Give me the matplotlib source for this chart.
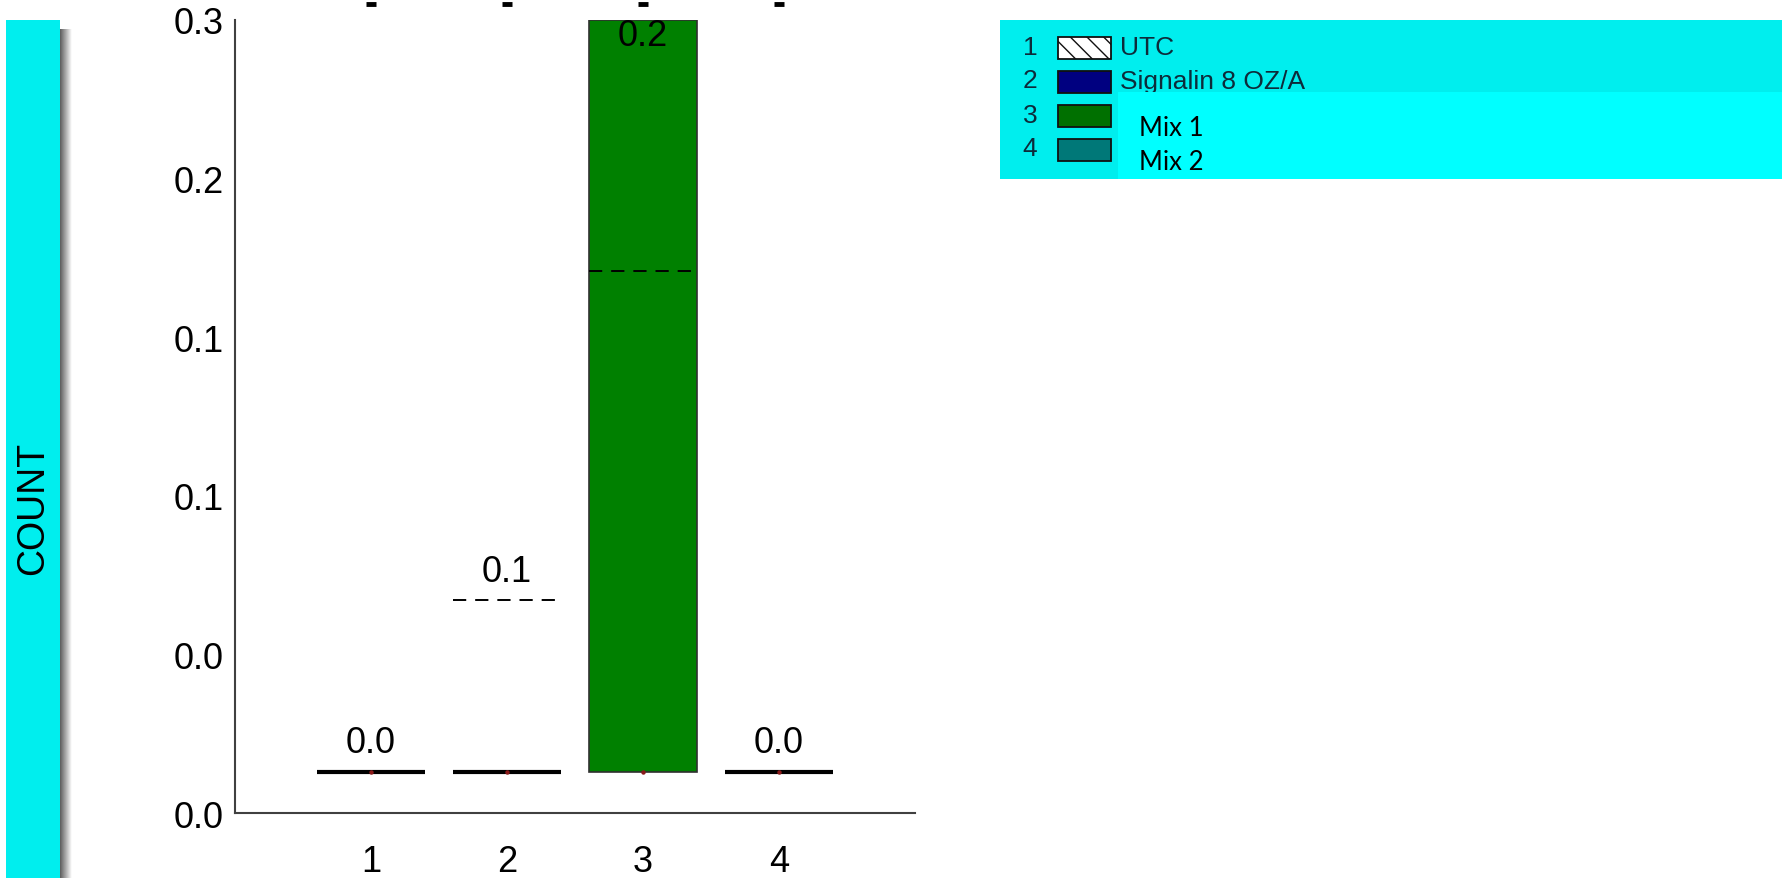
import matplotlib
matplotlib.use("Agg")
import matplotlib.pyplot as plt
from matplotlib.patches import Rectangle
import numpy as np

plt.rcParams['font.family'] = ['Liberation Sans', 'DejaVu Sans']

# values
groups = [1, 2, 3, 4]
box_low = [0.013, 0.013, 0.013, 0.013]
box_high = [0.013, 0.013, 0.25, 0.013]
mean_line = [0.013, 0.067, 0.171, 0.013]
cap_top = [0.255, 0.255, 0.255, 0.255]
value_labels = ["0.0", "0.1", "0.2", "0.0"]
box_colors = ["white", "#000080", "#008000", "#008080"]

ytick_vals = [0.0, 0.05, 0.10, 0.15, 0.20, 0.25]
ytick_labels = ["0.0", "0.0", "0.1", "0.1", "0.2", "0.3"]
xtick_labels = ["1", "2", "3", "4"]

legend_nums = ["1", "2", "3", "4"]
legend_names = ["UTC", "Signalin 8 OZ/A"]
overlay_names = ["Mix 1", "Mix 2"]
legend_colors = ["white", "#000080", "#007000", "#007878"]

W, H = 1783, 879
fig = plt.figure(figsize=(W / 100, H / 100), dpi=100)


def fx(px):
    return px / W


def fy(py):
    return 1 - py / H


ax = fig.add_axes([fx(235), fy(814), 680 / W, 793 / H])

bw = 0.8
for xi, lo, hi, col in zip(groups, box_low, box_high, box_colors):
    if hi > lo:
        ax.bar(xi, hi - lo, bottom=lo, width=bw, color=col,
               edgecolor='#303030', lw=1.2, zorder=2)
    else:
        ax.hlines(lo, xi - bw / 2, xi + bw / 2, colors='black', lw=3, zorder=3)

# mean lines (dashed)
for xi, m, lo in zip(groups, mean_line, box_low):
    if m > lo:
        ax.plot([xi - bw / 2, xi + bw / 2], [m, m], color='black', lw=1.4,
                dashes=(6.8, 4.6), zorder=4)

# small median dots
ax.plot(groups, box_low, 'o', color='#8b1a1a', ms=2.2, zorder=5)

# caps beyond the top
ax.plot(groups, cap_top, ls='none', marker='_', ms=7, mew=3.5,
        color='black', clip_on=False, zorder=5)

# value labels
for xi, lo, hi, m, lab in zip(groups, box_low, box_high, mean_line, value_labels):
    if hi > lo:
        ax.annotate(lab, (xi, hi), xytext=(0, -11), textcoords='offset points',
                    ha='center', va='center', fontsize=26, color='black')
    else:
        ax.annotate(lab, (xi, m), xytext=(0, 21), textcoords='offset points',
                    ha='center', va='center', fontsize=26, color='black')

ax.set_xlim(0, 5)
ax.set_ylim(0, 0.25)
ax.set_xticks(groups)
ax.set_xticklabels(xtick_labels)
ax.set_yticks(ytick_vals)
ax.set_yticklabels(ytick_labels)
ax.tick_params(axis='both', length=0, labelsize=26)
ax.tick_params(axis='y', pad=8)
ax.tick_params(axis='x', pad=22)
for side in ['top', 'right']:
    ax.spines[side].set_visible(False)
for side in ['left', 'bottom']:
    ax.spines[side].set_color('#404040')
    ax.spines[side].set_linewidth(1.5)

# y label panel with shadow
for i in range(12):
    g = 0.38 + 0.6 * i / 11
    fig.patches.append(Rectangle((fx(60 + i), 0), 1.2 / W, fy(30),
                                 transform=fig.transFigure,
                                 color=(g, g, g), lw=0, zorder=1))
fig.patches.append(Rectangle((fx(6), 0), 54 / W, fy(21),
                             transform=fig.transFigure,
                             color='#00EEEE', lw=0, zorder=2))
fig.text(fx(33), fy(508), "COUNT", rotation=90, ha='center', va='center',
         fontsize=27, color='black', zorder=3)

# legend panel
fig.patches.append(Rectangle((fx(1000), fy(180)), (W - 1000) / W, 159 / H,
                             transform=fig.transFigure,
                             color='#00EEEE', lw=0, zorder=1))
row_y = [49, 82.5, 117, 150.5]
for i, (num, col) in enumerate(zip(legend_nums, legend_colors)):
    cy = row_y[i]
    fig.text(fx(1030), fy(cy - 1), num, ha='center', va='center',
             fontsize=19, color='#0d2b3a', zorder=3)
    sw = Rectangle((fx(1058), fy(cy + 11)), 53 / W, 22 / H,
                   transform=fig.transFigure, facecolor=col,
                   edgecolor='#101010', lw=1.3, zorder=3,
                   hatch='\\\\' if i == 0 else None)
    fig.patches.append(sw)
for i, name in enumerate(legend_names):
    fig.text(fx(1120), fy(row_y[i] - 1), name, ha='left', va='center',
             fontsize=19, color='#0d2b3a', zorder=3)

fig.patches.append(Rectangle((fx(1118), fy(180)), (W - 1118) / W, 87 / H,
                             transform=fig.transFigure,
                             color='#00FFFF', lw=0, zorder=4))
for i, name in enumerate(overlay_names):
    fig.text(fx(1139), fy([128, 162][i]), name, ha='left', va='center',
             fontsize=18.5, color='black', family=['Lato', 'DejaVu Sans'],
             zorder=5)

fig.savefig("out.png", dpi=100)
